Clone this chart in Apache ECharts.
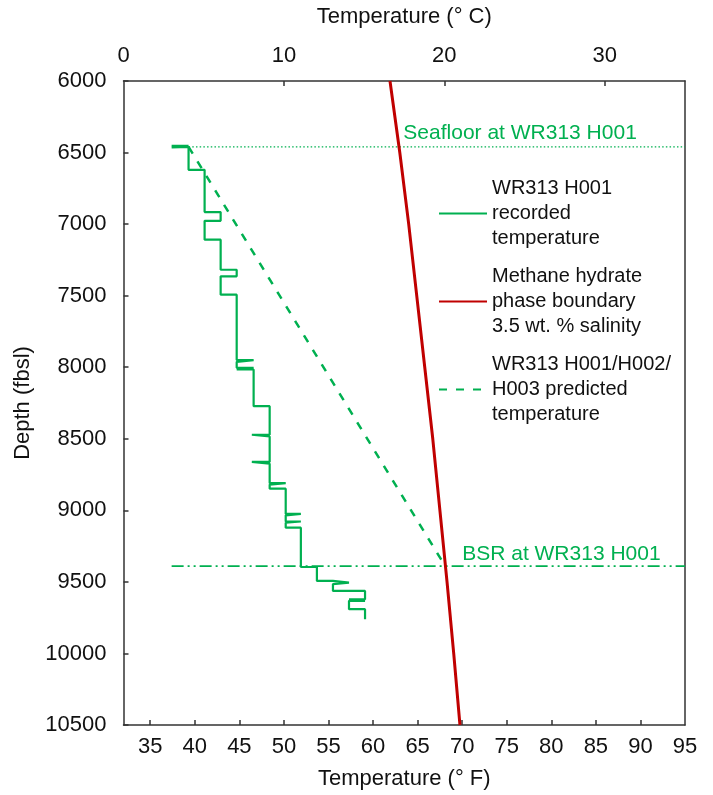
<!DOCTYPE html>
<html>
<head>
<meta charset="utf-8">
<script src="https://cdn.jsdelivr.net/npm/echarts@6/dist/echarts.min.js"></script>
<style>
html,body{margin:0;padding:0;background:#fff;}
#chart{width:713px;height:795px;}
</style>
</head>
<body>
<div id="chart"></div>
<script>
// ---- Data ----
// Recorded temperature (°F) vs depth (ft below sea level), WR313 H001
const recTempF = [37.4,39.3,39.3,37.4,37.4,39.3,39.3,41.1,41.1,42.9,42.9,41.1,41.1,42.9,42.9,44.7,44.7,42.9,42.9,44.7,44.7,46.6,46.6,44.7,44.7,46.6,46.6,44.7,46.6,46.6,48.4,48.4,46.4,46.4,48.4,48.4,46.4,46.4,48.4,48.4,50.2,50.2,48.4,48.4,50.2,50.2,51.9,51.9,50.2,50.2,51.9,51.9,50.2,50.2,51.9,51.9,53.7,53.7,55.5,55.5,57.3,57.3,55.5,55.5,59.1,59.1,57.3,57.3,59.1,57.3,57.3,59.1,59.1];
const recDepth = [6454,6454,6464,6464,6460,6460,6621,6621,6916,6916,6977,6977,7109,7109,7319,7319,7365,7365,7493,7493,7950,7950,7962,7962,8004,8004,8016,8016,8016,8272,8272,8472,8472,8484,8484,8662,8662,8674,8674,8810,8810,8820,8820,8849,8849,9025,9025,9035,9035,9078,9078,9086,9086,9121,9121,9396,9396,9493,9493,9505,9505,9515,9515,9563,9563,9622,9622,9632,9632,9632,9691,9691,9761];
// Methane hydrate phase boundary, 3.5 wt.% salinity
const hydDepth = [6000,6500,7000,7500,8000,8500,9000,9500,10000,10500];
const hydTempF = [61.9,63.0,64.0,64.9,65.8,66.7,67.5,68.3,69.05,69.75];
// Predicted temperature (seafloor -> BSR)
const predTempF = [39.3,68.1];
const predDepth = [6460,9390];
// Reference horizons
const seafloorTempF = [39.3,95];
const seafloorDepth = [6460,6460];
const bsrTempF = [37.4,95];
const bsrDepth = [9390,9390];
// Axis tick labels
const tickF = [35,40,45,50,55,60,65,70,75,80,85,90,95];
const tickC = [0,10,20,30];
const seriesNames = [
  'WR313 H001\nrecorded\ntemperature',
  'Methane hydrate\nphase boundary\n3.5 wt. % salinity',
  'WR313 H001/H002/\nH003 predicted\ntemperature'
];
const annotSeafloor = 'Seafloor at WR313 H001';
const annotBSR = 'BSR at WR313 H001';

const zip = (xs, ys) => xs.map((x, i) => [x, ys[i]]);

const GREEN = '#00B050';
const RED = '#C00000';
const FONT = 'Liberation Sans, Arial, sans-serif';
const AXC = '#333';
const TXT = '#111';

const chart = echarts.init(document.getElementById('chart'), null, {renderer: 'canvas'});
const option = {
  animation: false,
  backgroundColor: '#fff',
  textStyle: {fontFamily: FONT},
  grid: {left: 123.5, right: 28, top: 81, bottom: 69, containLabel: false},
  legend: {
    orient: 'vertical', left: 438, top: 176, padding: 0,
    itemWidth: 48, itemHeight: 14, itemGap: 13, selectedMode: false,
    data: seriesNames,
    itemStyle: {opacity: 0},
    textStyle: {fontSize: 20, lineHeight: 25, color: TXT, fontFamily: FONT}
  },
  xAxis: [
    {
      type: 'value', position: 'bottom', min: 32, max: 95,
      name: 'Temperature (° F)', nameLocation: 'middle', nameGap: 43,
      nameTextStyle: {fontSize: 22, color: TXT, fontFamily: FONT},
      axisLine: {show: true, onZero: false, lineStyle: {color: AXC, width: 1.5}},
      axisTick: {show: true, inside: true, length: 5, lineStyle: {color: AXC, width: 1.5}, customValues: tickF.slice(0, -1)},
      axisLabel: {fontSize: 22, color: TXT, margin: 11, customValues: tickF, fontFamily: FONT},
      splitLine: {show: false}
    },
    {
      type: 'value', position: 'top', min: 0, max: 35,
      name: 'Temperature (° C)', nameLocation: 'middle', nameGap: 53,
      nameTextStyle: {fontSize: 22, color: TXT, fontFamily: FONT},
      axisLine: {show: true, onZero: false, lineStyle: {color: AXC, width: 1.5}},
      axisTick: {show: true, inside: true, length: 5, lineStyle: {color: AXC, width: 1.5}, customValues: tickC.slice(1)},
      axisLabel: {fontSize: 22, color: TXT, margin: 14, customValues: tickC, fontFamily: FONT},
      splitLine: {show: false}
    }
  ],
  yAxis: [
    {
      type: 'value', inverse: true, min: 6000, max: 10500, interval: 500, position: 'left',
      name: 'Depth (fbsl)', nameLocation: 'middle', nameGap: 90, nameRotate: 90,
      nameTextStyle: {fontSize: 22, color: TXT, fontFamily: FONT},
      axisLine: {show: true, onZero: false, lineStyle: {color: AXC, width: 1.5}},
      axisTick: {show: true, inside: true, length: 5, lineStyle: {color: AXC, width: 1.5}},
      axisLabel: {fontSize: 22, color: TXT, margin: 17, fontFamily: FONT, formatter: v => String(v)},
      splitLine: {show: false}
    },
    {
      type: 'value', inverse: true, min: 6000, max: 10500, position: 'right',
      axisLine: {show: true, onZero: false, lineStyle: {color: AXC, width: 1.5}},
      axisTick: {show: false}, axisLabel: {show: false}, splitLine: {show: false}
    }
  ],
  series: [
    {
      name: seriesNames[0], type: 'line', xAxisIndex: 0, yAxisIndex: 0,
      data: zip(recTempF, recDepth), symbol: 'none', z: 5,
      lineStyle: {color: GREEN, width: 2.2}, itemStyle: {color: GREEN}
    },
    {
      name: seriesNames[1], type: 'line', xAxisIndex: 0, yAxisIndex: 0,
      data: zip(hydTempF, hydDepth), symbol: 'none', z: 6,
      lineStyle: {color: RED, width: 3}, itemStyle: {color: RED}
    },
    {
      name: seriesNames[2], type: 'line', xAxisIndex: 0, yAxisIndex: 0,
      data: zip(predTempF, predDepth), symbol: 'none', z: 4,
      lineStyle: {color: GREEN, width: 2.5, type: [8, 9]}, itemStyle: {color: GREEN}
    },
    {
      name: 'seafloor', type: 'line', xAxisIndex: 0, yAxisIndex: 0,
      data: zip(seafloorTempF, seafloorDepth), symbol: 'none', z: 3,
      lineStyle: {color: GREEN, width: 1.3, type: [1.5, 2.2]},
      markPoint: {
        symbol: 'circle', symbolSize: 0, silent: true,
        data: [{coord: [63.4, 6460]}],
        label: {show: true, position: 'top', distance: 3, align: 'left', formatter: annotSeafloor,
          color: GREEN, fontSize: 21, fontFamily: FONT}
      }
    },
    {
      name: 'bsr', type: 'line', xAxisIndex: 0, yAxisIndex: 0,
      data: zip(bsrTempF, bsrDepth), symbol: 'none', z: 3,
      lineStyle: {color: GREEN, width: 1.8, type: [12, 4, 2, 4, 2, 4]},
      markPoint: {
        symbol: 'circle', symbolSize: 0, silent: true,
        data: [{coord: [70.0, 9390]}],
        label: {show: true, position: 'top', distance: 1, align: 'left', formatter: annotBSR,
          color: GREEN, fontSize: 21, fontFamily: FONT}
      }
    }
  ]
};
chart.setOption(option);
</script>
</body>
</html>
